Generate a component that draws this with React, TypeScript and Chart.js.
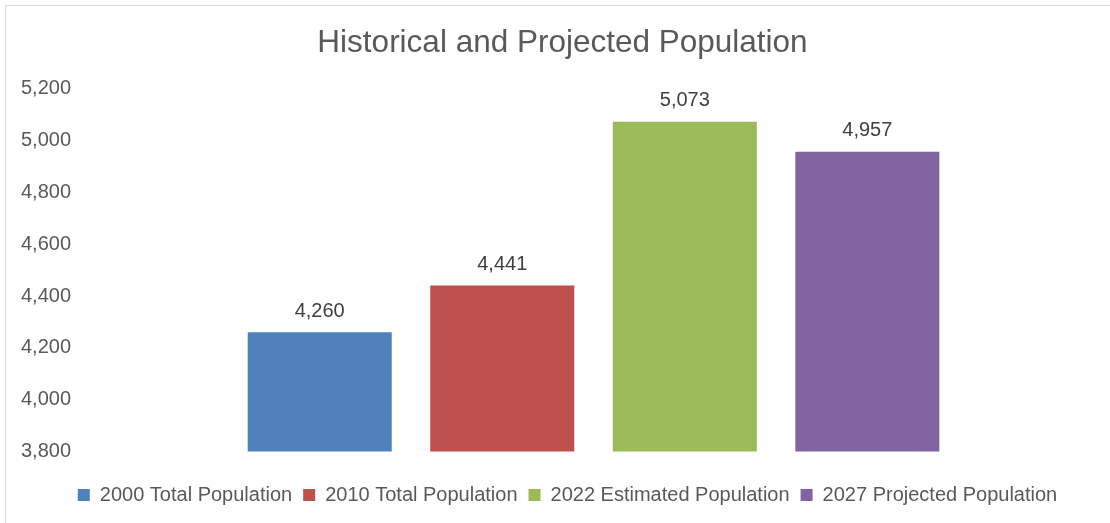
import React, { useEffect, useRef } from "react";
import { Chart, registerables } from "chart.js";

Chart.register(...registerables);

const seriesLabels = [
  "2000 Total Population",
  "2010 Total Population",
  "2022 Estimated Population",
  "2027 Projected Population",
];
const seriesValues = [4260, 4441, 5073, 4957];
const seriesColors = ["#4F81BD", "#C0504D", "#9BBB59", "#8064A2"];
const categories = [""];
const yMin = 3800;
const yMax = 5200;
const yStep = 200;

const FONT = "'Liberation Sans', Arial, Helvetica, sans-serif";
const fmt = (v: number) => v.toLocaleString("en-US");

const dataLabelPlugin = {
  id: "dataLabels",
  afterLayout(chart: any) {
    if (chart.legend) {
      chart.legend.left += 8;
      chart.legend.right += 8;
    }
    if (chart.titleBlock) {
      chart.titleBlock.left += 3;
      chart.titleBlock.right += 3;
    }
  },
  afterDatasetsDraw(chart: any) {
    const ctx = chart.ctx;
    ctx.save();
    ctx.font = `20px ${FONT}`;
    ctx.fillStyle = "#404040";
    ctx.textAlign = "center";
    ctx.textBaseline = "middle";
    chart.data.datasets.forEach((ds: any, i: number) => {
      const meta = chart.getDatasetMeta(i);
      meta.data.forEach((el: any, j: number) => {
        ctx.fillText(fmt(ds.data[j]), el.x, el.y - 21);
      });
    });
    ctx.restore();
  },
};

export default function App() {
  const ref = useRef<HTMLCanvasElement>(null);
  useEffect(() => {
    if (!ref.current) return;
    const chart = new Chart(ref.current, {
      type: "bar",
      data: {
        labels: categories,
        datasets: seriesLabels.map((label, i) => ({
          label,
          data: [seriesValues[i]],
          backgroundColor: seriesColors[i],
          borderWidth: 0,
          categoryPercentage: 0.711,
          barPercentage: 0.789,
        })),
      },
      options: {
        animation: false,
        responsive: false,
        maintainAspectRatio: false,
        layout: { padding: { left: 12, right: 3, top: 0, bottom: 8 } },
        scales: {
          x: {
            display: true,
            grid: { display: false, drawTicks: false },
            border: { display: false },
            ticks: { padding: 5.3, font: { size: 10 }, color: "#ffffff" },
          },
          y: {
            min: yMin,
            max: yMax,
            grid: { display: false, drawTicks: false },
            border: { display: false },
            ticks: {
              stepSize: yStep,
              padding: 9,
              color: "#595959",
              font: { size: 20, family: FONT },
              callback: (v: any) => fmt(Number(v)),
            },
          },
        },
        plugins: {
          tooltip: { enabled: false },
          title: {
            display: true,
            text: "Historical and Projected Population",
            color: "#595959",
            font: { size: 31.5, family: FONT, weight: "normal" as any },
            padding: { top: 24, bottom: 27 },
          },
          legend: {
            position: "bottom",
            labels: {
              color: "#595959",
              font: { size: 20, family: FONT },
              boxWidth: 12,
              boxHeight: 12,
              padding: 11,
            },
          },
        },
      },
      plugins: [dataLabelPlugin],
    });
    return () => chart.destroy();
  }, []);
  return (
    <div style={{ position: "fixed", left: 0, top: 0, width: 1110, height: 523, overflow: "hidden", background: "#fff" }}>
      <div style={{ position: "absolute", left: 5, top: 5, width: 1300, height: 700, border: "1px solid #d9d9d9" }} />
      <canvas ref={ref} width={1110} height={523} style={{ position: "absolute", left: 0, top: 0 }} />
    </div>
  );
}
